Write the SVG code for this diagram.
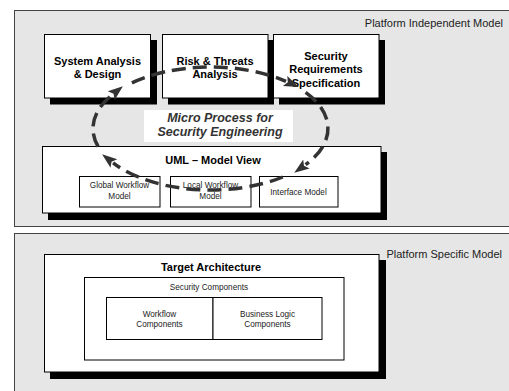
<svg xmlns="http://www.w3.org/2000/svg" width="509" height="391" viewBox="0 0 509 391">
<style>
.panel{fill:#e6e6e6;stroke:#444;stroke-width:1}
.box{fill:#fff;stroke:#000;stroke-width:1}
.shadow{fill:#000}
.sub{fill:#fff;stroke:#000;stroke-width:1}
text{font-family:"Liberation Sans",Arial,Helvetica,sans-serif;fill:#000}
.b{font-weight:bold;font-size:11px;text-anchor:middle}
.s{font-size:8.2px;text-anchor:middle;fill:#222}
.pl{font-size:11px;text-anchor:end;fill:#222}
.mp{font-weight:bold;font-style:italic;font-size:12.5px;text-anchor:middle;fill:#333}
.loop{fill:none;stroke:#333;stroke-width:3.5;stroke-dasharray:14 7}
</style>
<defs>
<marker id="ah" markerUnits="userSpaceOnUse" viewBox="0 -7 16 14" refX="1" refY="0" markerWidth="16" markerHeight="14" orient="auto">
<path d="M0,-5.5 L15,0 L0,5.5 L3,0 Z" fill="#333"/>
</marker>
</defs>
<rect width="509" height="391" fill="#fff"/>
<g id="pim">
<rect class="panel" x="14.5" y="10.5" width="600" height="216"/>
<text class="pl" x="503" y="27">Platform Independent Model</text>
</g>
<g id="psm">
<rect class="panel" x="14.5" y="233.5" width="600" height="200"/>
<text class="pl" x="502" y="258">Platform Specific Model</text>
</g>
<g id="system-analysis">
<rect class="shadow" x="50" y="40" width="107" height="64.5"/>
<rect class="box" x="44.5" y="34.5" width="106" height="63.5"/>
<text class="b" x="97.5" y="64.5">System Analysis</text>
<text class="b" x="97.5" y="77.5">&amp; Design</text>
</g>
<g id="risk-threats">
<rect class="shadow" x="168" y="40" width="106" height="64.5"/>
<rect class="box" x="162.5" y="34.5" width="105.5" height="63.5"/>
<text class="b" x="215" y="64.5">Risk &amp; Threats</text>
<text class="b" x="215" y="77.5">Analysis</text>
</g>
<g id="security-requirements">
<rect class="shadow" x="279" y="40" width="106" height="64.5"/>
<rect class="box" x="273.5" y="34.5" width="105.5" height="63.5"/>
<text class="b" x="326" y="59.5">Security</text>
<text class="b" x="326" y="73">Requirements</text>
<text class="b" x="326" y="86.5">Specification</text>
</g>
<g id="micro-process">
<rect x="144" y="110" width="149" height="32" fill="#fff"/>
<text class="mp" x="220" y="122">Micro Process for</text>
<text class="mp" x="220" y="136">Security Engineering</text>
</g>
<g id="uml-model-view">
<rect class="shadow" x="48" y="152" width="339" height="68"/>
<rect class="box" x="42.5" y="146.5" width="338.5" height="66.5"/>
<text class="b" x="213" y="164">UML – Model View</text>
</g>
<g id="global-workflow">
<rect class="sub" x="79.5" y="176.5" width="80.5" height="30.5"/>
<text class="s" x="119.5" y="188.3">Global Workflow</text>
<text class="s" x="119.5" y="199">Model</text>
</g>
<g id="local-workflow">
<rect class="sub" x="170.5" y="176.5" width="80.5" height="30.5"/>
<text class="s" x="210.5" y="188.3">Local Workflow</text>
<text class="s" x="210.5" y="199">Model</text>
</g>
<g id="interface-model">
<rect class="sub" x="259.5" y="176.5" width="78.5" height="30.5"/>
<text class="s" x="298.5" y="194.5">Interface Model</text>
</g>
<g id="target-architecture">
<rect class="shadow" x="50" y="260" width="336" height="119"/>
<rect class="box" x="44.5" y="254.5" width="334.5" height="117.5"/>
<text class="b" x="211" y="270.5">Target Architecture</text>
</g>
<g id="security-components">
<rect class="sub" x="84.5" y="277.5" width="259.5" height="82.5"/>
<text class="s" x="209" y="290">Security Components</text>
</g>
<g id="workflow-components">
<rect class="sub" x="106.5" y="297.5" width="106.5" height="42"/>
<text class="s" x="159.5" y="317">Workflow</text>
<text class="s" x="159.5" y="327.3">Components</text>
</g>
<g id="business-logic-components">
<rect class="sub" x="213" y="297.5" width="109" height="42"/>
<text class="s" x="267.5" y="317">Business Logic</text>
<text class="s" x="267.5" y="327.3">Components</text>
</g>
<g id="connectors">
<path class="loop" marker-end="url(#ah)" d="M98.1,146.5 A117.5,61.5 0 0 1 112,95"/>
<path class="loop" marker-end="url(#ah)" d="M131.9,82.8 A117.5,61.5 0 0 1 286,81.4"/>
<path class="loop" marker-end="url(#ah)" d="M305.6,92.4 A117.5,61.5 0 0 1 305.6,164.6"/>
<path class="loop" marker-end="url(#ah)" d="M282.8,177 A117.5,61.5 0 0 1 113.1,162.9"/>
</g>
</svg>
